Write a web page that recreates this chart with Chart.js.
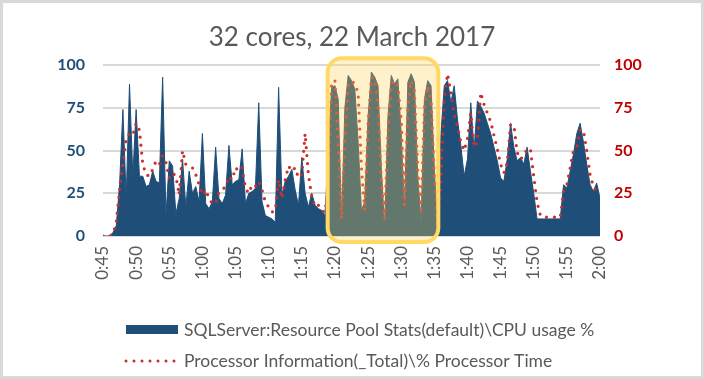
<!DOCTYPE html>
<html>
<head>
<meta charset="utf-8">
<title>32 cores, 22 March 2017</title>
<script src="https://cdn.jsdelivr.net/npm/chart.js@4.4.1/dist/chart.umd.min.js"></script>
<style>
    body { margin: 0; background: #fff; }
    canvas { display: block; }
</style>
</head>
<body>
<canvas id="cpuChart" width="704" height="379"></canvas>
<script>
// one sample every 30 seconds, 0:45 -> 2:00
var startMinute = 45;
var stepMinutes = 0.5;

var tickLabels = ['0:45', '0:50', '0:55', '1:00', '1:05', '1:10', '1:15', '1:20',
    '1:25', '1:30', '1:35', '1:40', '1:45', '1:50', '1:55', '2:00'];

var seriesNames = [
    'SQLServer:Resource Pool Stats(default)\\CPU usage %',
    'Processor Information(_Total)\\% Processor Time'
];

// SQL Server pool CPU (left axis)
var cpuUsage = [
    0, 0, 0, 2, 6, 30, 74, 22, 89, 35,
    74, 35, 35, 29, 30, 38, 32, 31, 93, 12,
    44, 41, 13, 22, 45, 17, 38, 25, 29, 20,
    60, 19, 16, 20, 52, 22, 19, 24, 53, 30,
    32, 33, 51, 19, 25, 26, 28, 78, 20, 12,
    11, 10, 8, 87, 24, 32, 35, 39, 27, 18,
    46, 25, 17, 25, 18, 16, 15, 12, 50, 87,
    88, 80, 8, 75, 94, 91, 86, 55, 15, 20,
    70, 96, 93, 88, 40, 5, 70, 94, 89, 92,
    60, 15, 90, 95, 90, 35, 8, 80, 91, 88,
    40, 2, 60, 88, 91, 78, 88, 68, 53, 35,
    45, 78, 50, 79, 76, 72, 66, 60, 52, 44,
    34, 32, 45, 66, 52, 44, 46, 42, 52, 38,
    25, 10, 10, 10, 10, 10, 10, 10, 10, 30,
    28, 38, 48, 60, 66, 55, 42, 30, 26, 31,
    22
];

// total processor time (right axis)
var processorTime = [
    0, 0, 0, 1, 8, 27, 42, 57, 60, 59,
    66, 62, 42, 36, 35, 39, 44, 42, 47, 43,
    34, 37, 35, 24, 50, 42, 41, 40, 36, 30,
    24, 27, 22, 19, 19, 26, 27, 29, 35, 33,
    40, 38, 40, 28, 25, 30, 29, 32, 27, 20,
    17, 14, 15, 33, 22, 33, 41, 38, 40, 34,
    36, 60, 36, 23, 17, 18, 15, 14, 30, 90,
    91, 55, 10, 55, 88, 91, 89, 84, 40, 15,
    65, 93, 92, 76, 32, 10, 60, 89, 91, 88,
    68, 18, 75, 91, 85, 38, 15, 75, 88, 80,
    35, 3, 33, 80, 95, 84, 71, 64, 55, 50,
    57, 72, 52, 55, 84, 77, 72, 67, 59, 51,
    42, 37, 43, 65, 65, 49, 45, 47, 51, 51,
    35, 20, 12, 11, 11, 11, 11, 11, 11, 26,
    30, 40, 50, 52, 62, 62, 50, 36, 29, 26,
    24
];

var blue = '#1F4E79';
var red = '#C9302C';
var grey = '#595959';

function toPoints(values) {
    return values.map(function (v, i) {
        return { x: startMinute + i * stepMinutes, y: v };
    });
}

// white page + thin grey frame like the Excel chart area
var framePlugin = {
    id: 'frame',
    beforeDraw: function (chart) {
        var ctx = chart.ctx;
        ctx.save();
        ctx.fillStyle = '#fff';
        ctx.fillRect(0, 0, chart.width, chart.height);
        ctx.restore();
    },
    afterDraw: function (chart) {
        var ctx = chart.ctx;
        ctx.save();
        ctx.strokeStyle = '#D9D9D9';
        ctx.lineWidth = 3;
        ctx.strokeRect(1.5, 1.5, chart.width - 3, chart.height - 3);
        ctx.restore();
    }
};

// the yellow rounded box around the 1:20 - 1:35 bursts
var highlightPlugin = {
    id: 'highlight',
    afterDatasetsDraw: function (chart) {
        var x = chart.scales.x, y = chart.scales.y;
        var left = x.getPixelForValue(78.9);
        var right = x.getPixelForValue(95.6);
        var top = y.getPixelForValue(104);
        var bottom = y.getPixelForValue(-3.5);
        var ctx = chart.ctx;
        ctx.save();
        ctx.beginPath();
        ctx.roundRect(left, top, right - left, bottom - top, 14);
        ctx.fillStyle = 'rgba(255, 213, 85, 0.31)';
        ctx.fill();
        ctx.strokeStyle = '#FFD966';
        ctx.lineWidth = 4;
        ctx.stroke();
        ctx.restore();
    }
};

// legend stacked in two left-aligned rows
var legendPlugin = {
    id: 'stackedLegend',
    afterDraw: function (chart) {
        var ctx = chart.ctx;
        var sets = chart.data.datasets;
        ctx.save();
        ctx.font = '17.5px Lato';
        ctx.textBaseline = 'middle';

        ctx.fillStyle = sets[1].backgroundColor;
        ctx.fillRect(126, 325, 52, 9);
        ctx.fillStyle = grey;
        ctx.fillText(sets[1].label, 184, 330);

        ctx.strokeStyle = sets[0].borderColor;
        ctx.lineWidth = 3;
        ctx.lineCap = 'round';
        ctx.setLineDash([0, 8]);
        ctx.beginPath();
        ctx.moveTo(126, 361);
        ctx.lineTo(176, 361);
        ctx.stroke();
        ctx.fillText(sets[0].label, 184, 361);
        ctx.restore();
    }
};

new Chart(document.getElementById('cpuChart'), {
    type: 'line',
    data: {
        datasets: [{
            label: seriesNames[1],
            data: toPoints(processorTime),
            yAxisID: 'y1',
            borderColor: red,
            borderWidth: 3.2,
            borderDash: [0, 8],
            borderCapStyle: 'round',
            pointRadius: 0,
            fill: false,
            tension: 0
        }, {
            label: seriesNames[0],
            data: toPoints(cpuUsage),
            yAxisID: 'y',
            borderColor: blue,
            backgroundColor: blue,
            borderWidth: 1,
            pointRadius: 0,
            fill: 'origin',
            tension: 0
        }]
    },
    options: {
        responsive: false,
        animation: false,
        layout: { padding: { left: 0, right: 0, top: 0, bottom: 83 } },
        plugins: {
            legend: { display: false },
            tooltip: { enabled: false },
            title: {
                display: true,
                text: '32 cores, 22 March 2017',
                color: grey,
                font: { family: 'Lato', size: 26, weight: 'normal' },
                lineHeight: 1.15,
                padding: { top: 22, bottom: 12 }
            }
        },
        scales: {
            x: {
                type: 'linear',
                min: 45,
                max: 120,
                grid: { display: false, drawTicks: false },
                border: { display: false },
                ticks: {
                    stepSize: 5,
                    autoSkip: false,
                    minRotation: 90,
                    maxRotation: 90,
                    padding: 10,
                    color: grey,
                    font: { family: 'Lato', size: 17 },
                    callback: function (value, index) { return tickLabels[index]; }
                },
                afterFit: function (scale) { scale.height = 60; }
            },
            y: {
                position: 'left',
                min: 0,
                max: 100,
                grid: { color: '#D9D9D9', lineWidth: 2, drawTicks: false },
                border: { display: false },
                ticks: {
                    stepSize: 25,
                    padding: 18,
                    color: blue,
                    font: { family: 'Lato', size: 16, weight: 'bold' }
                },
                afterFit: function (scale) { scale.width = 103; }
            },
            y1: {
                position: 'right',
                min: 0,
                max: 100,
                grid: { drawOnChartArea: false, drawTicks: false },
                border: { display: false },
                ticks: {
                    stepSize: 25,
                    padding: 14,
                    color: '#C00000',
                    font: { family: 'Lato', size: 16, weight: 'bold' }
                },
                afterFit: function (scale) { scale.width = 104; }
            }
        }
    },
    plugins: [framePlugin, highlightPlugin, legendPlugin]
});
</script>
</body>
</html>
